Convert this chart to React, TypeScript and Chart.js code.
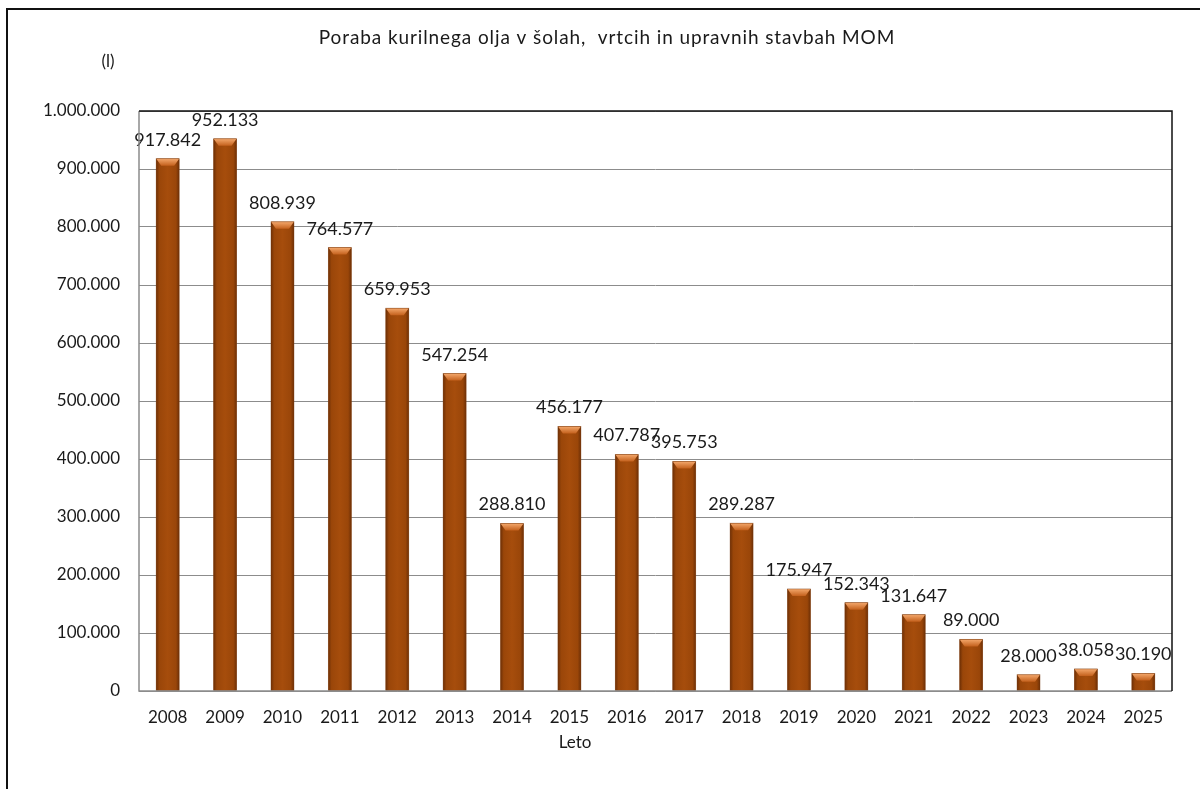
import React, { useEffect, useRef } from "react";
import { Chart, registerables } from "chart.js";

Chart.register(...registerables);

const years = ["2008", "2009", "2010", "2011", "2012", "2013", "2014", "2015", "2016", "2017", "2018", "2019", "2020", "2021", "2022", "2023", "2024", "2025"];
const consumption = [917842, 952133, 808939, 764577, 659953, 547254, 288810, 456177, 407787, 395753, 289287, 175947, 152343, 131647, 89000, 28000, 38058, 30190];
const yTickMin = 0;
const yTickMax = 1000000;
const yTickStep = 100000;
const titleText = "Poraba kurilnega olja v šolah,  vrtcih in upravnih stavbah MOM";
const unitText = "(l)";
const xTitleText = "Leto";

const FONT = "Lato, 'Noto Sans', sans-serif";

function fmt(n: number): string {
  return String(Math.round(n)).replace(/\B(?=(\d{3})+(?!\d))/g, ".");
}

const decorPlugin = {
  id: "decor",
  afterDatasetsDraw(chart: any) {
    const ctx = chart.ctx;
    const meta = chart.getDatasetMeta(0);
    ctx.save();
    meta.data.forEach((el: any) => {
      const w = el.width;
      const left = el.x - w / 2;
      const right = el.x + w / 2;
      const top = el.y;
      const base = el.base;
      const g = ctx.createLinearGradient(left, 0, right, 0);
      g.addColorStop(0, "#6e3006");
      g.addColorStop(0.14, "#9a4609");
      g.addColorStop(0.5, "#a64d0c");
      g.addColorStop(0.86, "#9a4609");
      g.addColorStop(1, "#6e3006");
      ctx.fillStyle = g;
      ctx.fillRect(left, top, w, base - top);
      const h = Math.min(7, (base - top) / 2);
      const b = 5;
      const vg = ctx.createLinearGradient(0, top, 0, top + h);
      vg.addColorStop(0, "#f4a86c");
      vg.addColorStop(1, "#c4611d");
      ctx.fillStyle = vg;
      ctx.beginPath();
      ctx.moveTo(left, top);
      ctx.lineTo(right, top);
      ctx.lineTo(right - b, top + h);
      ctx.lineTo(left + b, top + h);
      ctx.closePath();
      ctx.fill();
      ctx.strokeStyle = "rgba(120,60,20,0.5)";
      ctx.lineWidth = 0.8;
      ctx.strokeRect(left, top, w, base - top);
    });
    // data labels
    ctx.fillStyle = "#1a1a1a";
    ctx.font = `18px ${FONT}`;
    ctx.textAlign = "center";
    ctx.textBaseline = "alphabetic";
    meta.data.forEach((el: any, i: number) => {
      ctx.fillText(fmt(consumption[i]), el.x, el.y - 13);
    });
    ctx.restore();
  },
  afterDraw(chart: any) {
    const ctx = chart.ctx;
    const a = chart.chartArea;
    ctx.save();
    // plot border
    ctx.lineWidth = 1.5;
    ctx.strokeStyle = "#8c8c8c";
    ctx.beginPath();
    ctx.moveTo(a.left, a.top);
    ctx.lineTo(a.left, a.bottom);
    ctx.lineTo(a.right, a.bottom);
    ctx.stroke();
    ctx.strokeStyle = "#111";
    ctx.beginPath();
    ctx.moveTo(a.left, a.top);
    ctx.lineTo(a.right, a.top);
    ctx.lineTo(a.right, a.bottom);
    ctx.stroke();
    // outer frame
    ctx.fillStyle = "#111";
    ctx.fillRect(6, 8, 1200, 2);
    ctx.fillRect(6, 8, 2, 789);
    // texts
    ctx.fillStyle = "#1a1a1a";
    ctx.textAlign = "center";
    ctx.textBaseline = "middle";
    ctx.font = `17px ${FONT}`;
    ctx.fillText(unitText, 108, 62);
    ctx.fillText(xTitleText, 575, 743);
    ctx.font = `19px ${FONT}`;
    (ctx as any).letterSpacing = "0.9px";
    ctx.fillText(titleText, 607, 38);
    ctx.restore();
  },
};

export default function App() {
  const ref = useRef<HTMLCanvasElement | null>(null);
  useEffect(() => {
    document.body.style.margin = "0";
    document.body.style.overflow = "hidden";
    const canvas = ref.current!;
    const chart = new Chart(canvas, {
      type: "bar",
      data: {
        labels: years,
        datasets: [
          {
            data: consumption,
            backgroundColor: "#a04a0b",
            barPercentage: 0.4,
            categoryPercentage: 1,
          },
        ],
      },
      options: {
        animation: false,
        responsive: false,
        devicePixelRatio: 1,
        layout: { padding: { top: 111, right: 28, bottom: 60, left: 0 } },
        plugins: {
          legend: { display: false },
          title: { display: false },
          tooltip: { enabled: false },
        },
        scales: {
          x: {
            grid: { display: false, drawTicks: false },
            border: { display: false },
            ticks: { color: "#1a1a1a", font: { family: FONT, size: 17 }, padding: 16, maxRotation: 0, autoSkip: false },
            afterFit: (s: any) => {
              s.height = 38;
            },
          },
          y: {
            min: yTickMin,
            max: yTickMax,
            grid: { color: "#8c8c8c", lineWidth: 1, drawTicks: false },
            border: { display: false },
            ticks: {
              stepSize: yTickStep,
              color: "#1a1a1a",
              font: { family: FONT, size: 17 },
              padding: 19,
              callback: (v: any) => fmt(Number(v)),
            },
            afterFit: (s: any) => {
              s.width = 139;
            },
          },
        },
      },
      plugins: [decorPlugin],
    });
    return () => chart.destroy();
  }, []);
  return (
    <canvas
      ref={ref}
      width={1200}
      height={789}
      style={{ position: "absolute", left: 0, top: 0, width: 1200, height: 789 }}
    />
  );
}
